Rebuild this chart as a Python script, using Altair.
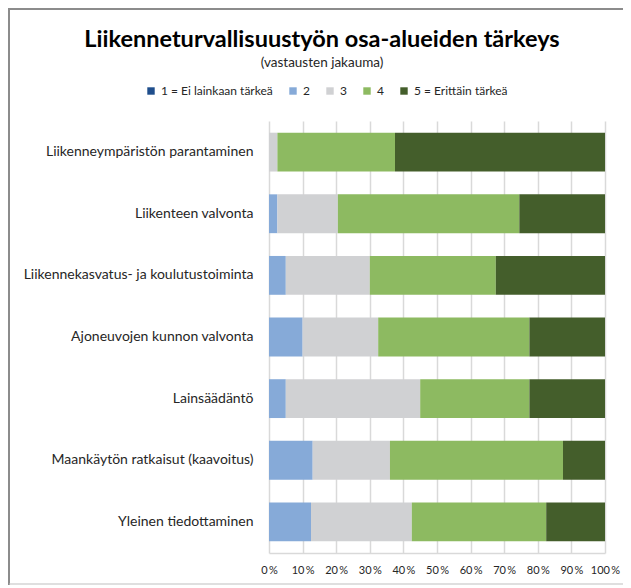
import altair as alt
import pandas as pd

title_text = "Liikenneturvallisuustyön osa-alueiden tärkeys"
subtitle_text = "(vastausten jakauma)"
categories = [
    "Liikenneympäristön parantaminen",
    "Liikenteen valvonta",
    "Liikennekasvatus- ja koulutustoiminta",
    "Ajoneuvojen kunnon valvonta",
    "Lainsäädäntö",
    "Maankäytön ratkaisut (kaavoitus)",
    "Yleinen tiedottaminen",
]
series = ["1 = Ei lainkaan tärkeä", "2", "3", "4", "5 = Erittäin tärkeä"]
v1 = [0, 0, 0, 0, 0, 0, 0]
v2 = [0, 2.5, 5, 10, 5, 13, 12.5]
v3 = [2.5, 18, 25, 22.5, 40, 23, 30]
v4 = [35, 54, 37.5, 45, 32.5, 51.5, 40]
v5 = [62.5, 25.5, 32.5, 22.5, 22.5, 12.5, 17.5]
colors = ["#1f4e8c", "#86aad8", "#d0d1d3", "#8dba61", "#445e2b"]
x_ticks = [0, 0.1, 0.2, 0.3, 0.4, 0.5, 0.6, 0.7, 0.8, 0.9, 1.0]

rows = []
for si, (name, vals) in enumerate(zip(series, [v1, v2, v3, v4, v5])):
    for cat, v in zip(categories, vals):
        rows.append({"kategoria": cat, "sarja": name, "arvo": v, "jarj": si})
df = pd.DataFrame(rows)
one = pd.DataFrame({"t": [title_text], "s": [subtitle_text]})

FONT = "Lato"

bars = alt.Chart(df).mark_bar().encode(
    y=alt.Y("kategoria:N", sort=categories, title=None,
            scale=alt.Scale(paddingInner=0.37, paddingOuter=0.19),
            axis=alt.Axis(labelPadding=16, ticks=False, domain=False,
                          labelFontSize=14, labelColor="#262626", labelLimit=300)),
    x=alt.X("arvo:Q", stack="normalize", title=None,
            scale=alt.Scale(domain=[0, 1]),
            axis=alt.Axis(values=x_ticks, labelExpr="round(datum.value*100) + '\u2009%'",
                          labelOverlap=False, labelFlush=False,
                          grid=True, gridColor="#d9d9d9", gridWidth=1.5,
                          ticks=False, domainColor="#d9d9d9", domainWidth=1.5,
                          labelFontSize=11, labelColor="#262626", labelPadding=11)),
    color=alt.Color("sarja:N", scale=alt.Scale(domain=series, range=colors),
                    legend=alt.Legend(title=None, orient="none", direction="horizontal",
                                      legendX=-124, legendY=-36, symbolType="square",
                                      symbolSize=55, symbolStrokeWidth=0,
                                      labelFontSize=12, labelColor="#262626",
                                      columnPadding=14, labelOffset=4, symbolOffset=0)),
    order=alt.Order("jarj:Q"),
)

title_mark = alt.Chart(one).mark_text(
    font=FONT, fontSize=23.5, fontWeight="bold", color="#000000",
    align="center", baseline="alphabetic").encode(
    text="t:N", x=alt.value(53), y=alt.value(-74))
subtitle_mark = alt.Chart(one).mark_text(
    font=FONT, fontSize=13.5, color="#262626",
    align="center", baseline="alphabetic").encode(
    text="s:N", x=alt.value(53), y=alt.value(-54))

frame_left = alt.Chart(one).mark_rule(color="#8c8c8c", strokeWidth=2, clip=False).encode(
    x=alt.value(-260), y=alt.value(-113), y2=alt.value(464))
frame_top = alt.Chart(one).mark_rule(color="#8c8c8c", strokeWidth=2, clip=False).encode(
    x=alt.value(-260), x2=alt.value(360), y=alt.value(-112))
frame_bottom = alt.Chart(one).mark_rule(color="#bfbfbf", strokeWidth=1, clip=False).encode(
    x=alt.value(-260), x2=alt.value(360), y=alt.value(463))

chart = alt.layer(bars, title_mark, subtitle_mark, frame_left, frame_top, frame_bottom).properties(
    width=336, height=432,
    autosize=alt.AutoSizeParams(type="none"),
    padding={"left": 261, "top": 113, "right": 18, "bottom": 33},
).configure(font=FONT).configure_view(stroke=None).configure_axis(
    labelFont=FONT).configure_legend(labelFont=FONT)

chart.save("out.html", embed_options={"renderer": "svg", "actions": False})
